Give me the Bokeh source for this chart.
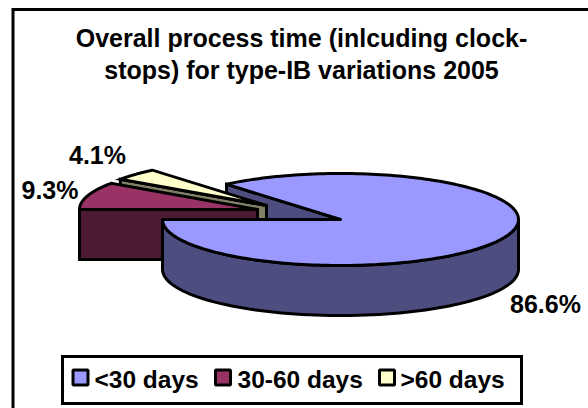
import numpy as np
from bokeh.plotting import figure
from bokeh.embed import file_html
from bokeh.resources import INLINE
from bokeh.core.properties import value

categories = ["<30 days", "30-60 days", ">60 days"]
shares = [86.6, 9.3, 4.1]
share_labels = ["86.6%", "9.3%", "4.1%"]
title_lines = ["Overall process time (inlcuding clock-", "stops) for type-IB variations 2005"]
top_colors = ["#9999FF", "#993366", "#FFFFCC"]
wall_colors = ["#4D4D80", "#4D1933", "#808066"]

# layout (page pixels)
RX, RY, DEPTH = 178, 46, 50
VIEW = 1.04  # apparent widening of the slices seen at the back of the tilted pie
CENTERS = [(340, 219), (257, 209), (266, 205)]
FONT = value("Liberation Sans")
LW = 3

p = figure(width=588, height=408, x_range=(0, 588), y_range=(408, 0),
           output_backend="svg", toolbar_location=None, min_border=0)
p.axis.visible = False
p.grid.visible = False
p.outline_line_color = None
p.background_fill_color = "white"


def rim(c, a0, a1, n=80):
    a = np.radians(np.linspace(a0, a1, n))
    return c[0] + RX * np.cos(a), c[1] - RY * np.sin(a)


def poly(xs, ys, color, join="miter"):
    p.patch(list(xs), list(ys), fill_color=color, line_color="black",
            line_width=LW, line_join=join)


sweep = [s * 3.6 for s in shares]
mid_a = 180 - sweep[1] * VIEW
last_a = 180 - (sweep[1] + sweep[2]) * VIEW
main_end = last_a + 360

# back-facing cut wall of the big slice
c = CENTERS[0]
ex, ey = rim(c, main_end, main_end, 1)
poly([c[0], ex[0], ex[0], c[0]], [c[1], ey[0], ey[0] + DEPTH, c[1] + DEPTH], wall_colors[0])

# >60 days slice
c = CENTERS[2]
ex, ey = rim(c, mid_a, mid_a, 1)
poly([c[0], ex[0], ex[0], c[0]], [c[1], ey[0], ey[0] + DEPTH, c[1] + DEPTH], wall_colors[2])
ax, ay = rim(c, mid_a, last_a)
poly([c[0], *ax], [c[1], *ay], top_colors[2])

# 30-60 days slice
c = CENTERS[1]
ax, ay = rim(c, 180, 180, 1)
poly([c[0], ax[0], ax[0], c[0]], [c[1], c[1], c[1] + DEPTH, c[1] + DEPTH], wall_colors[1])
ax, ay = rim(c, 180, mid_a)
poly([c[0], *ax], [c[1], *ay], top_colors[1])

# big slice
c = CENTERS[0]
ax, ay = rim(c, 180, 360)
poly(list(ax) + list(ax[::-1]), list(ay) + list((ay + DEPTH)[::-1]), wall_colors[0])
ax, ay = rim(c, 180, main_end, 200)
poly([c[0], *ax], [c[1], *ay], top_colors[0], join="round")

# chart frame (runs off the right and bottom of the picture)
p.line([12.5, 12.5, 588], [408, 9, 9], line_color="black", line_width=LW, line_join="miter")

# title
p.text([301, 301], [37, 69], text=title_lines, text_font=FONT, text_font_style="bold",
       text_font_size="25px", text_align="center", text_baseline="middle", text_color="black")

# data labels
p.text([545, 49.5, 97], [303, 189, 154], text=share_labels, text_font=FONT, text_font_style="bold",
       text_font_size="25px", text_align="center", text_baseline="middle", text_color="black")

# legend
p.patch([62, 521, 521, 62], [356, 356, 403, 403], fill_color="white", line_color="black",
        line_width=LW, line_join="miter")
p.rect([80, 222.5, 386.5], [377, 377, 377], width=15, height=15, fill_color=top_colors,
       line_color="black", line_width=LW)
p.text([94, 237, 400], [379, 379, 379], text=categories, text_font=FONT, text_font_style="bold",
       text_font_size="24.5px", text_align="left", text_baseline="middle", text_color="black")

open("out.html", "w").write(file_html(p, INLINE))
